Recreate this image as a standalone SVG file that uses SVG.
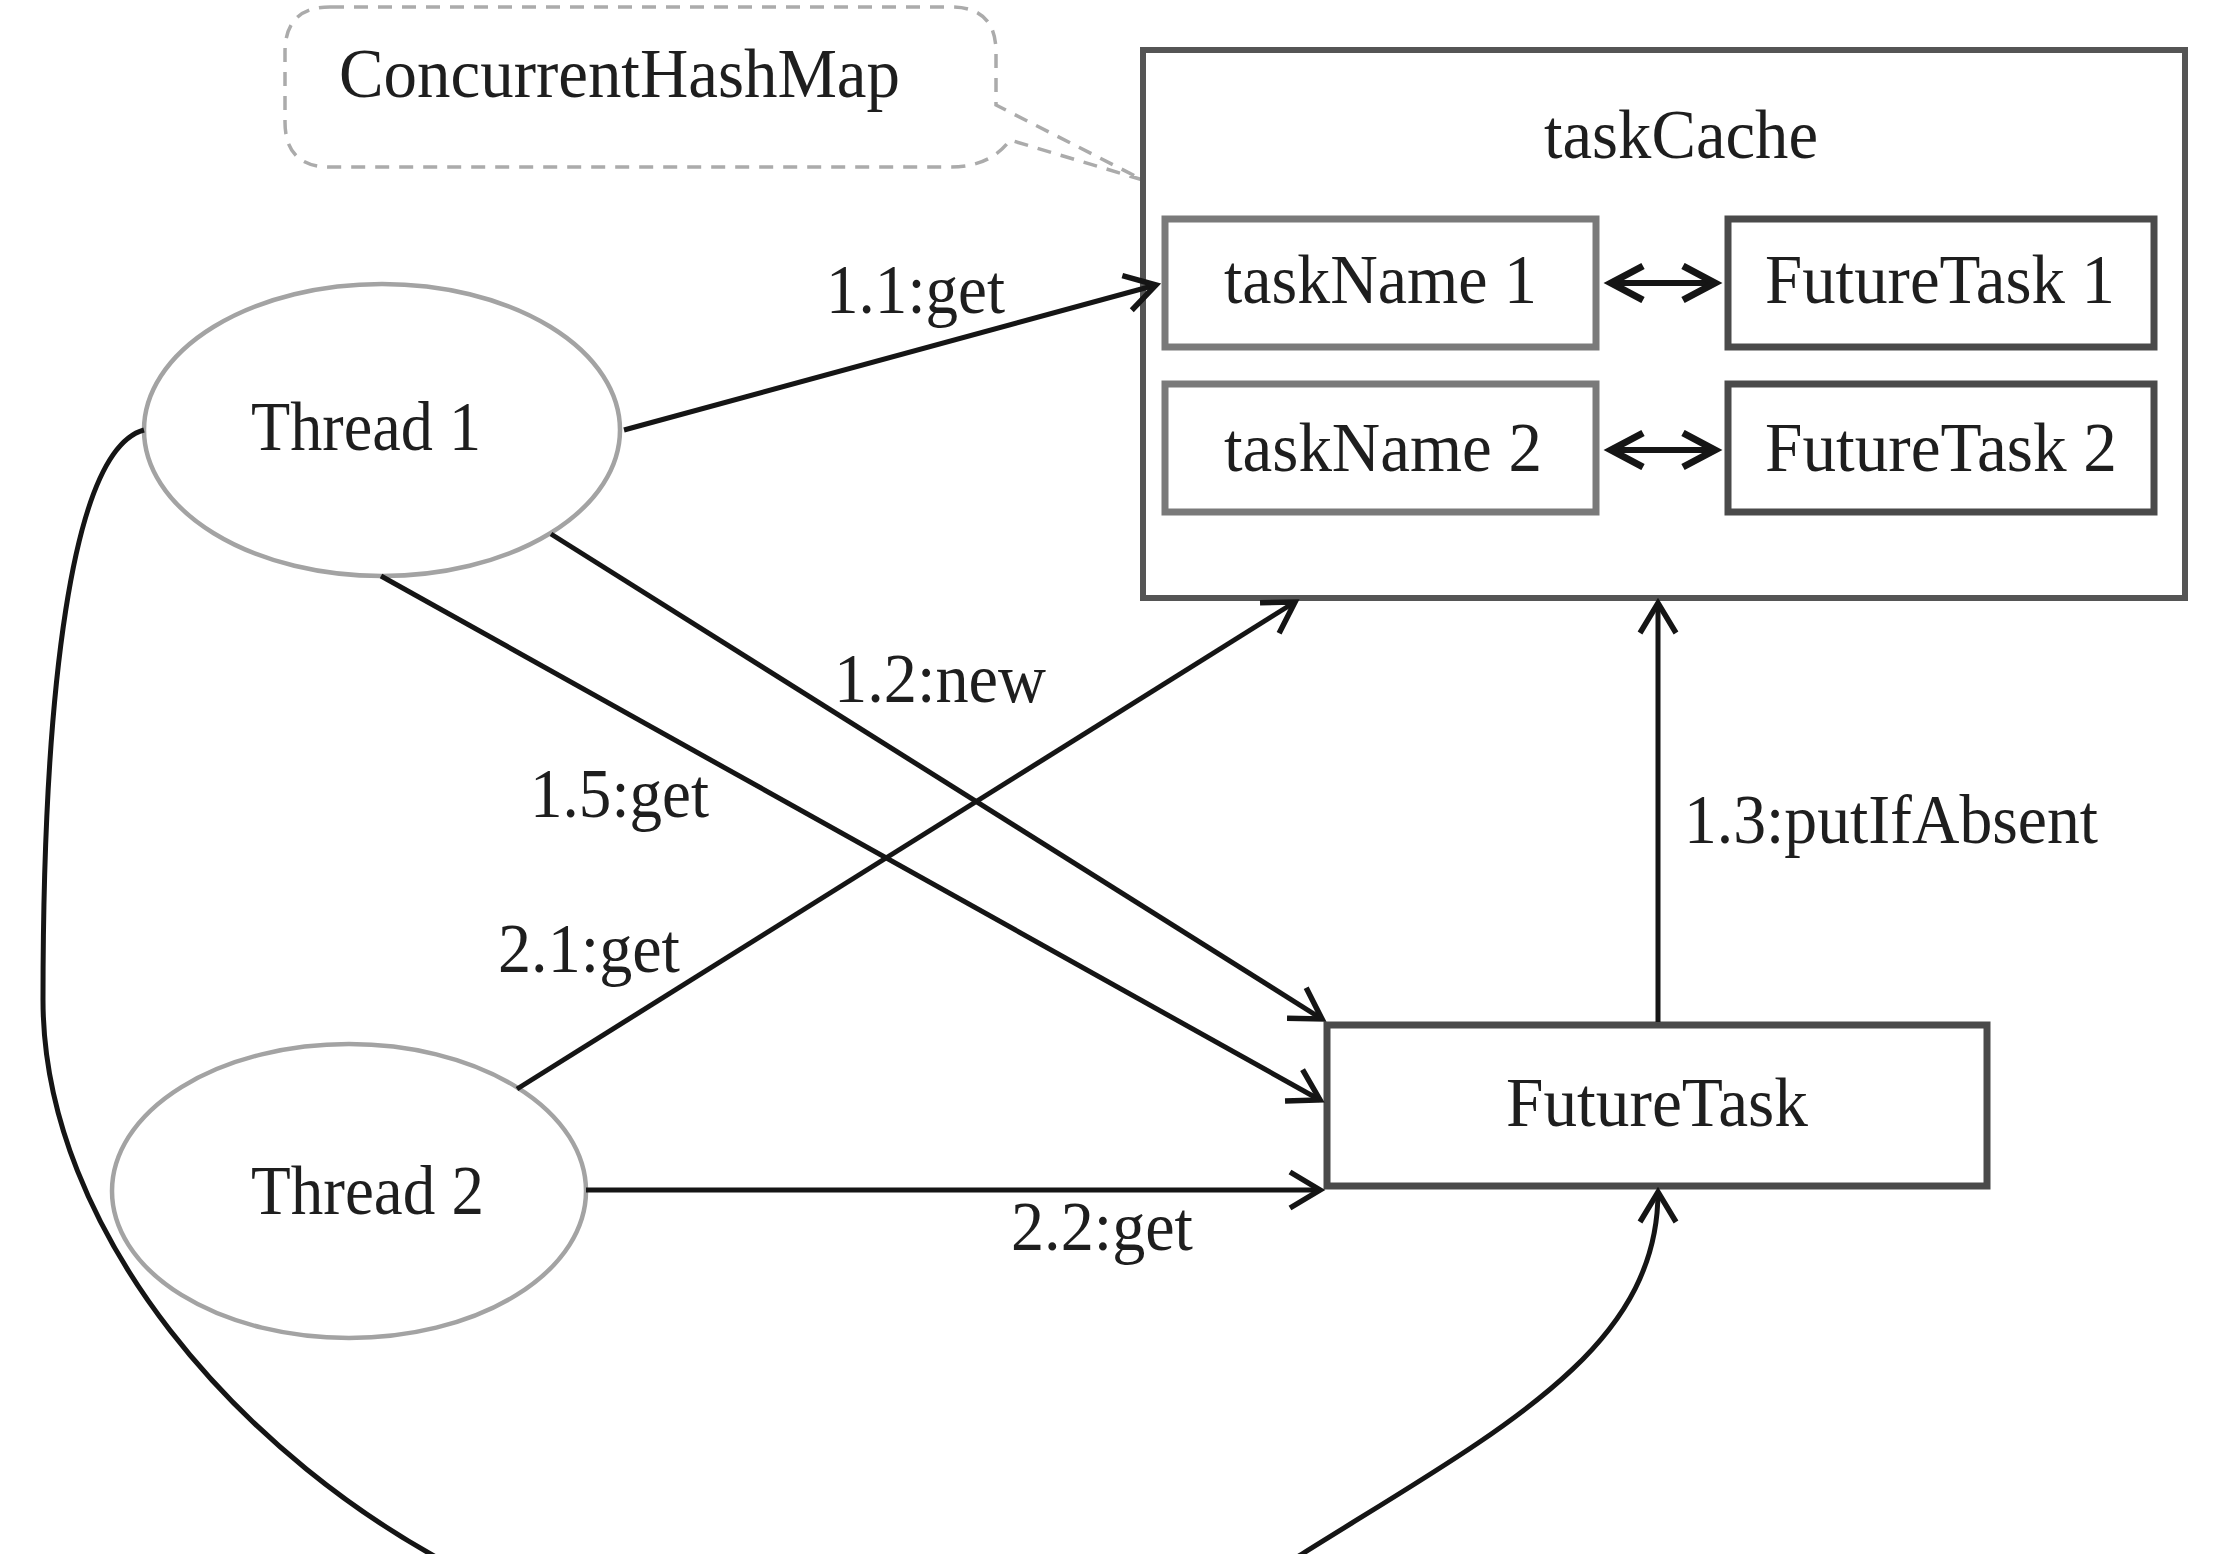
<svg xmlns="http://www.w3.org/2000/svg" width="2232" height="1554" viewBox="0 0 2232 1554">
<style>
text{font-family:"Liberation Serif","Times New Roman",serif;font-size:70px;fill:#1e1e1e}
.conn{fill:none;stroke:#151515;stroke-width:5}
.ell{fill:#fff;stroke:#a3a3a3;stroke-width:4.5}
.light{fill:#fff;stroke:#7a7a7a;stroke-width:7}
.dark{fill:#fff;stroke:#4a4a4a;stroke-width:7}
.dbl{fill:none;stroke:#151515;stroke-width:6}
</style>
<defs>
<marker id="arr" markerUnits="userSpaceOnUse" markerWidth="44" markerHeight="48" refX="33" refY="21" orient="auto">
<path d="M3,3 L33,21 L3,39" fill="none" stroke="#151515" stroke-width="5.5" stroke-linejoin="miter"/>
</marker>
<marker id="arr2" markerUnits="userSpaceOnUse" markerWidth="44" markerHeight="44" refX="36" refY="20" orient="auto-start-reverse">
<path d="M4,3 L36,20 L4,37" fill="none" stroke="#151515" stroke-width="7" stroke-linejoin="miter"/>
</marker>
</defs>
<rect width="2232" height="1554" fill="#fff"/>

<g id="callout">
<path d="M330,7 H951 Q996,7 996,52 V105 L1143,180 L1010,140 Q990,167 951,167 H330 Q285,167 285,122 V52 Q285,7 330,7 Z" fill="#fff" stroke="#ababab" stroke-width="3.5" stroke-dasharray="14 10"/>
<text x="339" y="97" textLength="561" lengthAdjust="spacingAndGlyphs">ConcurrentHashMap</text>
</g>

<g id="taskCache">
<rect x="1143" y="50" width="1042" height="548" fill="#fff" stroke="#555" stroke-width="6"/>
<text x="1544" y="158" textLength="274" lengthAdjust="spacingAndGlyphs">taskCache</text>
</g>
<g id="taskName1">
<rect class="light" x="1165" y="219" width="431" height="128"/>
<text x="1224" y="303" textLength="313" lengthAdjust="spacingAndGlyphs">taskName 1</text>
</g>
<g id="futureTask1">
<rect class="dark" x="1728" y="219" width="426" height="128"/>
<text x="1765" y="303" textLength="350" lengthAdjust="spacingAndGlyphs">FutureTask 1</text>
</g>
<g id="taskName2">
<rect class="light" x="1165" y="384" width="431" height="128"/>
<text x="1224" y="471" textLength="318" lengthAdjust="spacingAndGlyphs">taskName 2</text>
</g>
<g id="futureTask2">
<rect class="dark" x="1728" y="384" width="426" height="128"/>
<text x="1765" y="471" textLength="352" lengthAdjust="spacingAndGlyphs">FutureTask 2</text>
</g>
<g id="thread1">
<ellipse class="ell" cx="382" cy="430" rx="238" ry="146"/>
<text x="251" y="450" textLength="230" lengthAdjust="spacingAndGlyphs">Thread 1</text>
</g>
<g id="thread2">
<ellipse class="ell" cx="349" cy="1191" rx="237" ry="147"/>
<text x="251" y="1214" textLength="233" lengthAdjust="spacingAndGlyphs">Thread 2</text>
</g>
<g id="futureTask">
<rect class="dark" x="1327" y="1025" width="660" height="161"/>
<text x="1506" y="1126" textLength="302" lengthAdjust="spacingAndGlyphs">FutureTask</text>
</g>

<g id="connectors">
<line class="dbl" x1="1611" y1="283" x2="1715" y2="283" marker-start="url(#arr2)" marker-end="url(#arr2)"/>
<line class="dbl" x1="1611" y1="450" x2="1715" y2="450" marker-start="url(#arr2)" marker-end="url(#arr2)"/>
<line class="conn" x1="624" y1="430" x2="1156" y2="285" marker-end="url(#arr)"/>
<line class="conn" x1="551" y1="534" x2="1322" y2="1019" marker-end="url(#arr)"/>
<line class="conn" x1="381" y1="576" x2="1320" y2="1100" marker-end="url(#arr)"/>
<line class="conn" x1="517" y1="1089" x2="1295" y2="602" marker-end="url(#arr)"/>
<line class="conn" x1="586" y1="1190" x2="1320" y2="1190" marker-end="url(#arr)"/>
<line class="conn" x1="1658" y1="1022" x2="1658" y2="603" marker-end="url(#arr)"/>
<path class="conn" d="M144,430 C70,450 43,700 43,1000 C43,1230 240,1460 470,1575 C740,1700 1150,1650 1302,1554 C1500,1430 1658,1350 1658,1192" marker-end="url(#arr)"/>
<text x="826" y="313" textLength="179" lengthAdjust="spacingAndGlyphs">1.1:get</text>
<text x="834" y="702" textLength="212" lengthAdjust="spacingAndGlyphs">1.2:new</text>
<text x="530" y="817" textLength="179" lengthAdjust="spacingAndGlyphs">1.5:get</text>
<text x="498" y="972" textLength="182" lengthAdjust="spacingAndGlyphs">2.1:get</text>
<text x="1684" y="843" textLength="414" lengthAdjust="spacingAndGlyphs">1.3:putIfAbsent</text>
<text x="1011" y="1250" textLength="182" lengthAdjust="spacingAndGlyphs">2.2:get</text>
</g>
</svg>
